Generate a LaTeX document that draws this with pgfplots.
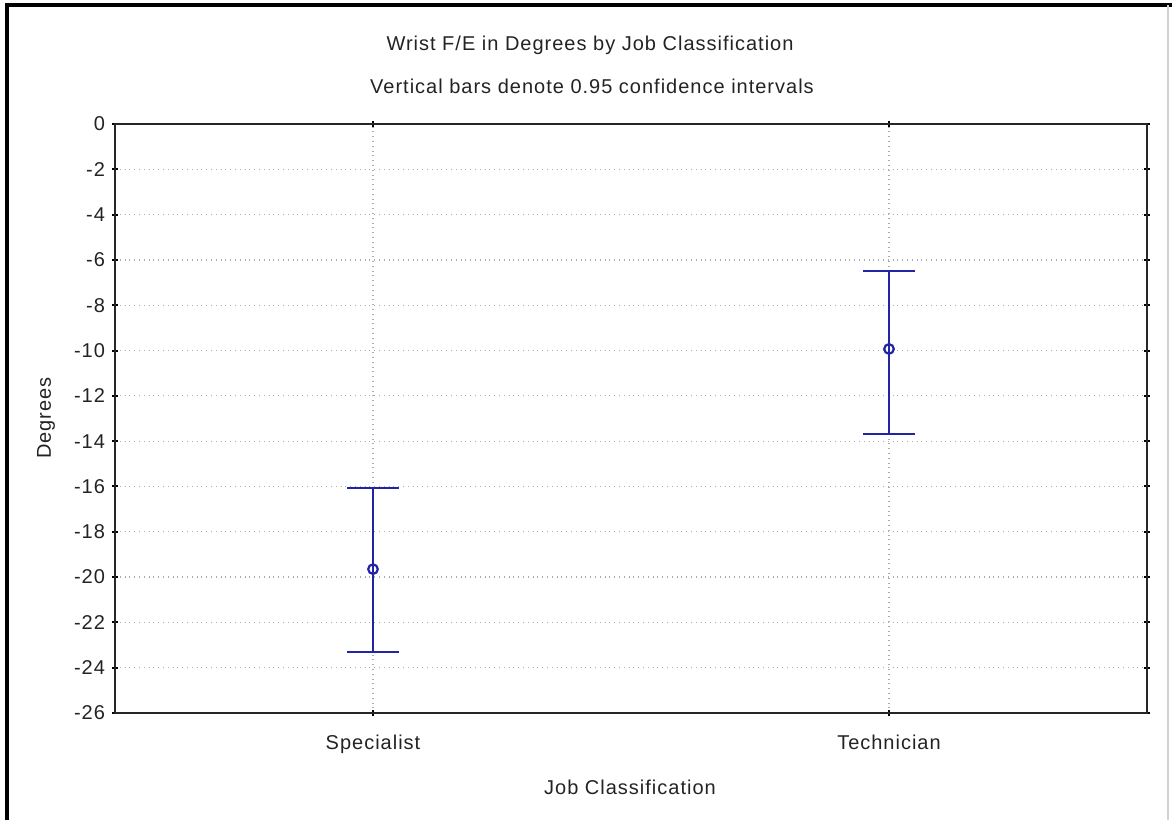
\documentclass[border=0pt]{standalone}
\usepackage{fontspec}
\setmainfont{Liberation Sans}[LetterSpace=5]
\usepackage{pgfplots}
\pgfplotsset{compat=1.18}
\definecolor{ebblue}{RGB}{35,35,165}
\definecolor{txt}{RGB}{35,35,35}
\pgfplotstableread{
x y ep em
0 -19.65 3.58 3.66
1 -9.93 3.44 3.76
}\cidata
\begin{document}
\begin{tikzpicture}[x=1pt,y=1pt]
\path[use as bounding box] (0,0) rectangle (586,410);
\draw[black, line width=2pt] (3.5,0) -- (3.5,407.5) -- (586,407.5);
\draw[gray!35, line width=0.6pt] (584,0) -- (584,407.5);
\begin{axis}[
  at={(57.5pt,53.5pt)}, anchor=south west,
  scale only axis, width=516pt, height=294.5pt,
  xmin=-0.5, xmax=1.5, ymin=-26, ymax=0,
  xtick={0,1}, xticklabels={Specialist,Technician},
  ytick={-26,-24,...,0},
  grid=major,
  grid style={gray!65, dotted, line width=0.6pt},
  axis line style={line width=1.3pt, black!85},
  tick style={black, line width=1pt},
  tick align=center, major tick length=3pt,
  ticklabel style={font=\fontsize{10}{12}\selectfont, text=txt},
  xticklabel style={yshift=-6pt},
  /pgf/number format/assume math mode=true,
  clip=false,
]
\addplot[ebblue, line width=1.1pt, only marks, mark=o, mark size=2.4pt,
  mark options={fill=white, solid, line width=1.1pt},
  error bars/.cd, y dir=both, y explicit,
  error bar style={line width=1.1pt, ebblue},
  error mark options={rotate=90, mark size=13pt, line width=1.1pt, ebblue}]
  table[x=x, y=y, y error plus=ep, y error minus=em] {\cidata};
\end{axis}
\begin{scope}[every node/.style={font=\fontsize{10}{12}\selectfont, text=txt}]
\node at (295,387.5) {Wrist F/E in Degrees by Job Classification};
\node at (296,367) {Vertical bars denote 0.95 confidence intervals};
\node[rotate=90] at (23,201) {Degrees};
\node at (315,16.5) {Job Classification};
\end{scope}
\end{tikzpicture}
\end{document}
